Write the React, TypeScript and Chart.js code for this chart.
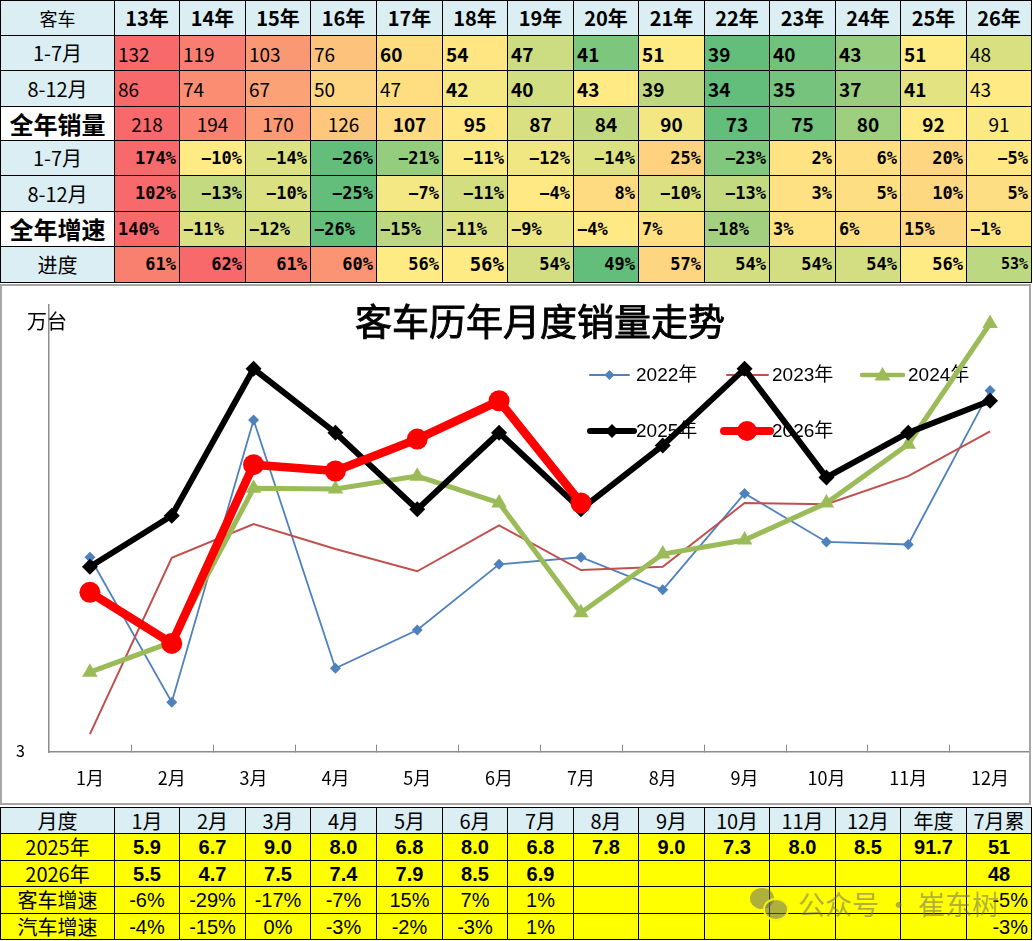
import React, { useEffect, useRef } from 'react';
import { Chart, registerables } from 'chart.js';

Chart.register(...registerables);

// ---------- top table data ----------
const years = ['13年', '14年', '15年', '16年', '17年', '18年', '19年', '20年', '21年', '22年', '23年', '24年', '25年', '26年'];
const sales17 = [132, 119, 103, 76, 60, 54, 47, 41, 51, 39, 40, 43, 51, 48];
const sales812 = [86, 74, 67, 50, 47, 42, 40, 43, 39, 34, 35, 37, 41, 43];
const salesYear = [218, 194, 170, 126, 107, 95, 87, 84, 90, 73, 75, 80, 92, 91];
const growth17 = [174, -10, -14, -26, -21, -11, -12, -14, 25, -23, 2, 6, 20, -5];
const growth812 = [102, -13, -10, -25, -7, -11, -4, 8, -10, -13, 3, 5, 10, 5];
const growthYear = [140, -11, -12, -26, -15, -11, -9, -4, 7, -18, 3, 6, 15, -1];
const progress = [61, 62, 61, 60, 56, 56, 54, 49, 57, 54, 54, 54, 56, 53];

// ---------- chart data ----------
const months = ['1月', '2月', '3月', '4月', '5月', '6月', '7月', '8月', '9月', '10月', '11月', '12月'];
const s2022 = [6.05, 3.78, 8.2, 4.31, 4.91, 5.94, 6.05, 5.54, 7.05, 6.29, 6.25, 8.66];
const s2023 = [3.28, 6.04, 6.57, 6.18, 5.83, 6.55, 5.85, 5.9, 6.9, 6.88, 7.32, 8.02];
const s2024 = [4.25, 4.72, 7.13, 7.12, 7.32, 6.9, 5.18, 6.1, 6.32, 6.9, 7.82, 9.71];
const s2025 = [5.9, 6.7, 9.0, 8.0, 6.8, 8.0, 6.8, 7.8, 9.0, 7.3, 8.0, 8.5];
const s2026 = [5.5, 4.7, 7.5, 7.4, 7.9, 8.5, 6.9, null, null, null, null, null];
const yTickValues = [3];
const Y_MIN = 3;
const Y_MAX = 10;

// ---------- bottom table data ----------
const bottomHeader = ['1月', '2月', '3月', '4月', '5月', '6月', '7月', '8月', '9月', '10月', '11月', '12月', '年度', '7月累'];
const row2025 = ['5.9', '6.7', '9.0', '8.0', '6.8', '8.0', '6.8', '7.8', '9.0', '7.3', '8.0', '8.5', '91.7', '51'];
const row2026 = ['5.5', '4.7', '7.5', '7.4', '7.9', '8.5', '6.9', '', '', '', '', '', '', '48'];
const busGrowth = ['-6%', '-29%', '-17%', '-7%', '15%', '7%', '1%', '', '', '', '', '', '', '-5%'];
const autoGrowth = ['-4%', '-15%', '0%', '-3%', '-2%', '-3%', '1%', '', '', '', '', '', '', '-3%'];

// ---------- layout ----------
const colX = [0, 114, 179, 245, 310, 376, 442, 507, 573, 638, 704, 769, 835, 900, 966, 1031];
const topRowY = [0, 35, 70, 106, 140, 175, 211, 246, 282];
const botRowY = [807, 833, 860, 886, 913, 939];
const LIGHT_BLUE = '#DAEEF3';
const YELLOW = '#FFFF00';
const CJK = "'Noto Sans CJK SC', 'Noto Sans', sans-serif";

function scaleColor(v: number, arr: number[]): string {
  const s = [...arr].sort((a, b) => a - b);
  const n = s.length;
  const rank = 0.5 * (n - 1);
  const lo = Math.floor(rank);
  const mid = s[lo] + (rank - lo) * (s[lo + 1] - s[lo]);
  const min = s[0];
  const max = s[n - 1];
  const green = [99, 190, 123];
  const yellow = [255, 235, 132];
  const red = [248, 105, 107];
  let a: number[], b: number[], t: number;
  if (v <= mid) {
    a = green; b = yellow; t = mid === min ? 1 : (v - min) / (mid - min);
  } else {
    a = yellow; b = red; t = max === mid ? 0 : (v - mid) / (max - mid);
  }
  const c = a.map((x, i) => Math.round(x + (b[i] - x) * t));
  return `rgb(${c[0]},${c[1]},${c[2]})`;
}

const pct = (v: number) => (v < 0 ? '−' + Math.abs(v) : String(v)) + '%';

type CellProps = {
  c: number; r0: number; r1: number; text: string; bg?: string; align?: 'left' | 'center' | 'right';
  font?: string; bold?: boolean; size?: number; color?: string;
};

function Cell({ c, r0, r1, text, bg = '#fff', align = 'center', font = CJK, bold = false, size = 18, color = '#000' }: CellProps) {
  const left = colX[c];
  const width = colX[c + 1] - colX[c] + 1;
  return (
    <div
      style={{
        position: 'absolute', left, top: r0, width, height: r1 - r0 + 1, boxSizing: 'border-box',
        border: '1px solid #000', background: bg, display: 'flex', alignItems: 'center',
        justifyContent: align === 'left' ? 'flex-start' : align === 'right' ? 'flex-end' : 'center',
        padding: '0 3px', fontFamily: font, fontWeight: bold ? 700 : 400, fontSize: size, color,
        whiteSpace: 'nowrap', overflow: 'hidden', lineHeight: 1,
      }}
    >
      {text}
    </div>
  );
}

function TopTable() {
  const cells: React.ReactNode[] = [];
  const R = topRowY;
  const PF = "'DejaVu Sans Mono', monospace";
  cells.push(<Cell key="h0" c={0} r0={R[0]} r1={R[1]} text="客车" bg={LIGHT_BLUE} size={18} />);
  years.forEach((y, i) => cells.push(<Cell key={'h' + (i + 1)} c={i + 1} r0={R[0]} r1={R[1]} text={y} bg={LIGHT_BLUE} bold size={20} />));
  const labels = [
    { t: '1-7月', bg: LIGHT_BLUE, bold: false, size: 20 },
    { t: '8-12月', bg: LIGHT_BLUE, bold: false, size: 20 },
    { t: '全年销量', bg: '#fff', bold: true, size: 24 },
    { t: '1-7月', bg: LIGHT_BLUE, bold: false, size: 20 },
    { t: '8-12月', bg: LIGHT_BLUE, bold: false, size: 20 },
    { t: '全年增速', bg: '#fff', bold: true, size: 24 },
    { t: '进度', bg: LIGHT_BLUE, bold: false, size: 20 },
  ];
  labels.forEach((l, j) => cells.push(<Cell key={'l' + j} c={0} r0={R[j + 1]} r1={R[j + 2]} text={l.t} bg={l.bg} bold={l.bold} size={l.size} />));
  years.forEach((_, i) => {
    const c = i + 1;
    cells.push(<Cell key={'a' + i} c={c} r0={R[1]} r1={R[2]} text={String(sales17[i])} bg={scaleColor(sales17[i], sales17)} align="left" bold={i >= 4 && i <= 12} size={19} />);
    cells.push(<Cell key={'b' + i} c={c} r0={R[2]} r1={R[3]} text={String(sales812[i])} bg={scaleColor(sales812[i], sales812)} align="left" bold={i >= 5 && i <= 12} size={19} />);
    cells.push(<Cell key={'d' + i} c={c} r0={R[3]} r1={R[4]} text={String(salesYear[i])} bg={scaleColor(salesYear[i], salesYear)} align="center" bold={i >= 4 && i <= 12} size={19} />);
    cells.push(<Cell key={'e' + i} c={c} r0={R[4]} r1={R[5]} text={pct(growth17[i])} bg={scaleColor(growth17[i], growth17)} align="right" bold size={17} font={PF} />);
    cells.push(<Cell key={'f' + i} c={c} r0={R[5]} r1={R[6]} text={pct(growth812[i])} bg={scaleColor(growth812[i], growth812)} align="right" bold size={17} font={PF} />);
    cells.push(<Cell key={'g' + i} c={c} r0={R[6]} r1={R[7]} text={pct(growthYear[i])} bg={scaleColor(growthYear[i], growthYear)} align="left" bold size={17} font={PF} />);
    cells.push(<Cell key={'p' + i} c={c} r0={R[7]} r1={R[8]} text={progress[i] + '%'} bg={scaleColor(progress[i], progress)} align="right" bold size={i === 5 ? 19 : i === 13 ? 15 : 17} font={PF} />);
  });
  return <>{cells}</>;
}

function BottomTable() {
  const cells: React.ReactNode[] = [];
  const R = botRowY;
  const NARROW = "'Liberation Sans Narrow', 'Arial Narrow', 'Liberation Sans', sans-serif";
  const ARIAL = "'Liberation Sans', Arial, sans-serif";
  cells.push(<Cell key="bh0" c={0} r0={R[0]} r1={R[1]} text="月度" bg={LIGHT_BLUE} size={20} />);
  bottomHeader.forEach((h, i) => cells.push(<Cell key={'bh' + (i + 1)} c={i + 1} r0={R[0]} r1={R[1]} text={h} bg={LIGHT_BLUE} size={20} />));
  const rowLabels = ['2025年', '2026年', '客车增速', '汽车增速'];
  rowLabels.forEach((t, j) => cells.push(<Cell key={'bl' + j} c={0} r0={R[j + 1]} r1={R[j + 2]} text={t} bg={YELLOW} size={20} />));
  bottomHeader.forEach((_, i) => {
    const c = i + 1;
    const last = i === bottomHeader.length - 1;
    cells.push(<Cell key={'r1' + i} c={c} r0={R[1]} r1={R[2]} text={row2025[i]} bg={YELLOW} bold size={20} font={ARIAL} />);
    cells.push(<Cell key={'r2' + i} c={c} r0={R[2]} r1={R[3]} text={row2026[i]} bg={YELLOW} bold size={20} font={ARIAL} />);
    cells.push(<Cell key={'r3' + i} c={c} r0={R[3]} r1={R[4]} text={busGrowth[i]} bg={YELLOW} size={20} font={NARROW} align={last ? 'right' : 'center'} />);
    cells.push(<Cell key={'r4' + i} c={c} r0={R[4]} r1={R[5]} text={autoGrowth[i]} bg={YELLOW} size={20} font={NARROW} align={last ? 'right' : 'center'} />);
  });
  return <>{cells}</>;
}

const CANVAS_TOP = 284;
const CANVAS_W = 1031;
const CANVAS_H = 520;

type LegendItem = { label: string; color: string; lw: number; style: string | false; radius: number; x0: number; x1: number; tx: number; y: number };
const legendItems: LegendItem[] = [
  { label: '2022年', color: '#4F81BD', lw: 2, style: 'rectRot', radius: 5, x0: 590, x1: 629, tx: 636, y: 91 },
  { label: '2023年', color: '#C0504D', lw: 2, style: false, radius: 0, x0: 727, x1: 768, tx: 772, y: 91 },
  { label: '2024年', color: '#9BBB59', lw: 4.5, style: 'triangle', radius: 8, x0: 862, x1: 903, tx: 908, y: 91 },
  { label: '2025年', color: '#000000', lw: 6, style: 'rectRot', radius: 7, x0: 590, x1: 634, tx: 636, y: 147 },
  { label: '2026年', color: '#FF0000', lw: 8, style: 'circle', radius: 10, x0: 724, x1: 770, tx: 772, y: 147 },
];

const decorPlugin = {
  id: 'decor',
  beforeDatasetsDraw(chart: any) {
    const ctx = chart.ctx as CanvasRenderingContext2D;
    const xs = chart.scales.x;
    const ys = chart.scales.y;
    const area = chart.chartArea;
    ctx.save();
    ctx.fillStyle = '#000';
    ctx.strokeStyle = '#000';
    ctx.font = `37px ${CJK}`;
    ctx.textAlign = 'center';
    ctx.textBaseline = 'middle';
    ctx.fillText('客车历年月度销量走势', 540, 38);
    ctx.lineWidth = 0.9;
    ctx.strokeText('客车历年月度销量走势', 540, 38);
    ctx.font = `20px ${CJK}`;
    ctx.textAlign = 'left';
    ctx.fillText('万台', 27, 37);
    ctx.font = `16px ${CJK}`;
    ctx.textAlign = 'right';
    yTickValues.forEach((v) => ctx.fillText(String(v), 25, ys.getPixelForValue(v) - 1));
    ctx.font = `18px ${CJK}`;
    ctx.textAlign = 'center';
    months.forEach((m, i) => ctx.fillText(m, xs.getPixelForValue(i), area.bottom + 26));
    legendItems.forEach((it) => {
      ctx.strokeStyle = it.color;
      ctx.lineWidth = it.lw;
      ctx.lineCap = 'round';
      ctx.beginPath();
      ctx.moveTo(it.x0, it.y);
      ctx.lineTo(it.x1, it.y);
      ctx.stroke();
      if (it.style) {
        ctx.fillStyle = it.color;
        ctx.beginPath();
        const r = it.radius;
        const cx = (it.x0 + it.x1) / 2;
        if (it.style === 'circle') {
          ctx.arc(cx, it.y, r, 0, Math.PI * 2);
        } else if (it.style === 'rectRot') {
          ctx.moveTo(cx, it.y - r); ctx.lineTo(cx + r, it.y); ctx.lineTo(cx, it.y + r); ctx.lineTo(cx - r, it.y); ctx.closePath();
        } else {
          ctx.moveTo(cx, it.y - r); ctx.lineTo(cx + r, it.y + r * 0.7); ctx.lineTo(cx - r, it.y + r * 0.7); ctx.closePath();
        }
        ctx.fill();
      }
      ctx.fillStyle = '#000';
      ctx.font = `19px 'Liberation Sans', ${CJK}`;
      ctx.textAlign = 'left';
      ctx.textBaseline = 'middle';
      ctx.fillText(it.label, it.tx, it.y + 1);
    });
    ctx.strokeStyle = '#8c8c8c';
    ctx.lineWidth = 1;
    for (let i = 1; i < months.length; i++) {
      const x = Math.round((xs.getPixelForValue(i - 1) + xs.getPixelForValue(i)) / 2) + 0.5;
      ctx.beginPath();
      ctx.moveTo(x, area.bottom);
      ctx.lineTo(x, area.bottom - 7);
      ctx.stroke();
    }
    ctx.restore();
  },
};

function LineChart() {
  const ref = useRef<HTMLCanvasElement | null>(null);
  useEffect(() => {
    if (!ref.current) return;
    const chart = new Chart(ref.current, {
      type: 'line',
      data: {
        labels: months,
        datasets: [
          { label: '2022年', data: s2022, borderColor: '#4F81BD', backgroundColor: '#4F81BD', borderWidth: 1.8, pointStyle: 'rectRot', pointRadius: 5.5, pointBorderWidth: 0, order: 5, tension: 0, clip: false },
          { label: '2023年', data: s2023, borderColor: '#C0504D', backgroundColor: '#C0504D', borderWidth: 2, pointRadius: 0, order: 4, tension: 0, clip: false },
          { label: '2024年', data: s2024, borderColor: '#9BBB59', backgroundColor: '#9BBB59', borderWidth: 5, pointStyle: 'triangle', pointRadius: 9, pointBorderWidth: 0, order: 3, tension: 0, clip: false },
          { label: '2025年', data: s2025, borderColor: '#000000', backgroundColor: '#000000', borderWidth: 6, pointStyle: 'rectRot', pointRadius: 8, pointBorderWidth: 0, order: 2, tension: 0, clip: false },
          { label: '2026年', data: s2026, borderColor: '#FF0000', backgroundColor: '#FF0000', borderWidth: 8.5, pointStyle: 'circle', pointRadius: 10.5, pointBorderWidth: 0, order: 1, tension: 0, spanGaps: false, clip: false },
        ],
      },
      options: {
        animation: false,
        responsive: false,
        maintainAspectRatio: false,
        devicePixelRatio: 1,
        layout: { autoPadding: false, padding: { top: 21, right: 0, left: 0, bottom: 0 } },
        plugins: { legend: { display: false }, title: { display: false }, tooltip: { enabled: false } },
        scales: {
          x: {
            type: 'category',
            offset: true,
            grid: { display: false, drawTicks: false },
            border: { display: true, color: '#8c8c8c', width: 1.5 },
            ticks: { display: false },
            afterFit: (s: any) => { s.height = CANVAS_H - 468; },
          },
          y: {
            min: Y_MIN,
            max: Y_MAX,
            grid: { display: false, drawTicks: false },
            border: { display: true, color: '#8c8c8c', width: 1.5 },
            ticks: { display: false, stepSize: 1 },
            afterFit: (s: any) => { s.width = 49; },
          },
        },
      },
      plugins: [decorPlugin],
    });
    return () => chart.destroy();
  }, []);
  return (
    <>
      <canvas ref={ref} width={CANVAS_W} height={CANVAS_H} style={{ position: 'absolute', left: 0, top: CANVAS_TOP, width: CANVAS_W, height: CANVAS_H }} />
      <div style={{ position: 'absolute', left: 0, top: CANVAS_TOP, width: CANVAS_W, height: 521, boxSizing: 'border-box', border: '2px solid #a6a6a6', pointerEvents: 'none' }} />
    </>
  );
}

function Watermark() {
  return (
    <div style={{ position: 'absolute', left: 750, top: 884, display: 'flex', alignItems: 'center', color: 'rgba(110,110,110,0.55)', fontFamily: CJK, fontSize: 27, pointerEvents: 'none' }}>
      <div style={{ position: 'relative', width: 38, height: 32, marginRight: 10 }}>
        <div style={{ position: 'absolute', left: 0, top: 0, width: 24, height: 21, borderRadius: '50%', background: 'rgba(110,110,110,0.55)' }} />
        <div style={{ position: 'absolute', left: 13, top: 10, width: 22, height: 19, borderRadius: '50%', background: 'rgba(110,110,110,0.55)', border: '2px solid rgba(255,255,0,0.9)' }} />
      </div>
      <span>公众号 · 崔东树</span>
    </div>
  );
}

export default function App() {
  if (typeof document !== 'undefined') document.body.style.margin = '0';
  return (
    <div style={{ position: 'relative', width: 1033, height: 941, background: '#fff', overflow: 'hidden' }}>
      <TopTable />
      <LineChart />
      <BottomTable />
      <Watermark />
    </div>
  );
}
